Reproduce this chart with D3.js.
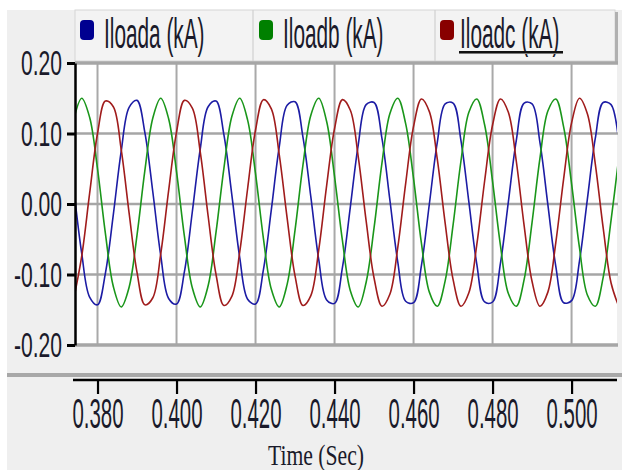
<!DOCTYPE html>
<html>
<head>
<meta charset="utf-8">
<script src="https://cdn.jsdelivr.net/npm/d3@7"></script>
<style>
  html, body { margin: 0; padding: 0; background: #ffffff; }
  svg { display: block; }
</style>
</head>
<body>
<div id="chart"></div>
<script>
// ---- data ----
const tStart = 0.374;          // time of first sample (s)
const tStep = 0.002;           // sample spacing (s)
const seriesNames = ["Iloada (kA)", "Iloadb (kA)", "Iloadc (kA)"];
const iloada = [
  0.021, -0.070, -0.132, -0.143, -0.098, -0.015, 0.075, 0.137, 0.147, 0.101,
  0.017, -0.073, -0.134, -0.142, -0.096, -0.011, 0.078, 0.138, 0.146, 0.098,
  0.013, -0.076, -0.135, -0.142, -0.093, -0.008, 0.081, 0.140, 0.145, 0.095,
  0.010, -0.079, -0.136, -0.141, -0.090, -0.004, 0.084, 0.141, 0.144, 0.093,
  0.006, -0.082, -0.138, -0.140, -0.087, 0.000, 0.087, 0.142, 0.143, 0.090,
  0.003, -0.085, -0.139, -0.139, -0.084, 0.003, 0.090, 0.143, 0.142, 0.087,
  -0.001, -0.088, -0.140, -0.137, -0.081, 0.007, 0.093, 0.144, 0.141, 0.084
];
const iloadb = [
  0.120, 0.150, 0.123, 0.050, -0.042, -0.117, -0.146, -0.118, -0.044, 0.048,
  0.122, 0.150, 0.121, 0.046, -0.046, -0.119, -0.146, -0.116, -0.040, 0.051,
  0.124, 0.150, 0.119, 0.043, -0.049, -0.121, -0.146, -0.114, -0.037, 0.055,
  0.126, 0.150, 0.117, 0.039, -0.052, -0.123, -0.146, -0.111, -0.034, 0.058,
  0.128, 0.150, 0.114, 0.036, -0.056, -0.125, -0.145, -0.109, -0.030, 0.061,
  0.130, 0.149, 0.112, 0.032, -0.059, -0.127, -0.145, -0.107, -0.026, 0.065,
  0.132, 0.149, 0.109, 0.029, -0.062, -0.129, -0.145, -0.104, -0.023, 0.068
];
const iloadc = [
  -0.134, -0.074, 0.015, 0.100, 0.146, 0.138, 0.077, -0.013, -0.097, -0.143,
  -0.133, -0.071, 0.019, 0.102, 0.147, 0.136, 0.074, -0.017, -0.100, -0.144,
  -0.131, -0.068, 0.022, 0.105, 0.148, 0.135, 0.070, -0.020, -0.102, -0.144,
  -0.130, -0.065, 0.026, 0.107, 0.148, 0.133, 0.067, -0.024, -0.105, -0.145,
  -0.128, -0.062, 0.029, 0.110, 0.149, 0.131, 0.064, -0.027, -0.107, -0.145,
  -0.126, -0.058, 0.033, 0.112, 0.149, 0.130, 0.061, -0.031, -0.110, -0.145,
  -0.125, -0.055, 0.036, 0.115, 0.150, 0.128, 0.057, -0.034, -0.112, -0.146
];
const xDomain = [0.3743, 0.5115];
const yDomain = [-0.20, 0.20];
const xTicks = [0.380, 0.400, 0.420, 0.440, 0.460, 0.480, 0.500];
const yTicks = [-0.20, -0.10, 0.00, 0.10, 0.20];
const xLabel = "Time (Sec)";

// ---- layout ----
const W = 622, H = 470;
const plotL = 75, plotR = 617, plotT = 63, plotB = 345;
const xAxisY = 380;
const lineColors = ["#1c1ca4", "#1a961a", "#a01c1c"];
const keyColors = ["#000090", "#008000", "#880000"];
const sansFont = "'Liberation Sans', Arial, sans-serif";
const textColor = "#1a1a2a";

const svg = d3.select("#chart").append("svg")
  .attr("width", W).attr("height", H)
  .attr("font-family", sansFont);

// backgrounds
svg.append("rect").attr("x", 0).attr("y", 0).attr("width", W).attr("height", H).attr("fill", "#ffffff");
svg.append("rect").attr("x", 7).attr("y", 10).attr("width", W - 7).attr("height", H - 10).attr("fill", "#efefef");

// legend panel
const legend = svg.append("g");
legend.append("rect").attr("x", 75).attr("y", 10).attr("width", 540).attr("height", 51)
  .attr("fill", "#f3f3f3").attr("stroke", "#d6d6d6").attr("stroke-width", 1);
legend.append("rect").attr("x", 615).attr("y", 12).attr("width", 3).attr("height", 50).attr("fill", "#b0b0b0");
const sepX = [253, 435];
legend.selectAll("line.sep").data(sepX).join("line")
  .attr("x1", d => d).attr("x2", d => d).attr("y1", 10).attr("y2", 61)
  .attr("stroke", "#d0d0d0").attr("stroke-width", 1.2);
const keyX = [80, 259, 440];
const textX = [104, 283, 460];
seriesNames.forEach((name, i) => {
  legend.append("rect").attr("x", keyX[i]).attr("y", 20).attr("width", 14).attr("height", 20)
    .attr("rx", 4).attr("fill", keyColors[i]);
  legend.append("text")
    .attr("transform", `translate(${textX[i]},48) scale(1,2.0)`)
    .attr("font-size", 20.8).attr("fill", textColor)
    .text(name);
});
legend.append("line").attr("x1", 459).attr("x2", 563).attr("y1", 53).attr("y2", 53)
  .attr("stroke", "#7a7a7a").attr("stroke-width", 2);
legend.append("line").attr("x1", 459).attr("x2", 563).attr("y1", 52).attr("y2", 52)
  .attr("stroke", "#111111").attr("stroke-width", 1.8);

// scales
const x = d3.scaleLinear().domain(xDomain).range([plotL, plotR]);
const y = d3.scaleLinear().domain(yDomain).range([plotB, plotT]);

// plot area
svg.append("rect").attr("x", plotL).attr("y", plotT).attr("width", plotR - plotL).attr("height", plotB - plotT)
  .attr("fill", "#ffffff");

// grid
svg.append("g").selectAll("line").data(xTicks).join("line")
  .attr("x1", d => x(d)).attr("x2", d => x(d)).attr("y1", plotT).attr("y2", plotB)
  .attr("stroke", "#a9a9a9").attr("stroke-width", 2);
svg.append("g").selectAll("line").data(yTicks).join("line")
  .attr("x1", plotL).attr("x2", plotR + 1).attr("y1", d => y(d)).attr("y2", d => y(d))
  .attr("stroke", "#a6a6a6").attr("stroke-width", d => (d === yTicks[0] || d === yTicks[yTicks.length - 1]) ? 3.5 : 2.5);

// clip
svg.append("clipPath").attr("id", "clip").append("rect")
  .attr("x", plotL + 1).attr("y", plotT).attr("width", plotR - plotL - 1).attr("height", plotB - plotT);

const line = d3.line()
  .x((d, i) => x(tStart + i * tStep))
  .y(d => y(d))
  .curve(d3.curveCatmullRom.alpha(0.5));

const lines = svg.append("g").attr("clip-path", "url(#clip)");
[iloada, iloadb, iloadc].forEach((s, i) => {
  lines.append("path").datum(s)
    .attr("fill", "none").attr("stroke", lineColors[i]).attr("stroke-width", 1.6)
    .attr("stroke-linejoin", "round")
    .attr("d", line);
});

// y axis
const yAxis = svg.append("g").attr("transform", `translate(${plotL},0)`)
  .call(d3.axisLeft(y).tickValues(yTicks).tickFormat(d => d.toFixed(2)).tickSize(8).tickSizeOuter(0).tickPadding(5));
yAxis.select(".domain").attr("stroke", "#000").attr("stroke-width", 2.5);
yAxis.selectAll(".tick line").attr("stroke", "#000").attr("stroke-width", 3);
yAxis.selectAll(".tick text")
  .attr("x", null).attr("dy", null).attr("y", null)
  .attr("transform", "translate(-13,11.5) scale(1,1.65)")
  .attr("font-size", 21.1).attr("fill", textColor)
  .attr("font-family", sansFont);

// bottom separator
svg.append("rect").attr("x", 7).attr("y", 373).attr("width", W - 7).attr("height", 4).attr("fill", "#a8a8a8");

// x axis
const xAxis = svg.append("g").attr("transform", `translate(0,${xAxisY})`)
  .call(d3.axisBottom(x).tickValues(xTicks).tickFormat(d => d.toFixed(3)).tickSize(14).tickSizeOuter(0).tickPadding(4));
xAxis.select(".domain").attr("stroke", "#000").attr("stroke-width", 2.5).attr("d", `M${plotL - 2},0H${plotR}`);
xAxis.selectAll(".tick line").attr("stroke", "#000").attr("stroke-width", 2.2);
xAxis.selectAll(".tick text")
  .attr("y", null).attr("dy", null)
  .attr("transform", "translate(0,47.5) scale(1,2.1)")
  .attr("font-size", 20.4).attr("fill", textColor)
  .attr("font-family", sansFont);

// x label
svg.append("text")
  .attr("transform", "translate(316,464.5) scale(1,1.4)")
  .attr("text-anchor", "middle")
  .attr("font-family", "'Liberation Serif', 'Times New Roman', serif")
  .attr("font-size", 21.7).attr("fill", textColor)
  .text(xLabel);
</script>
</body>
</html>
